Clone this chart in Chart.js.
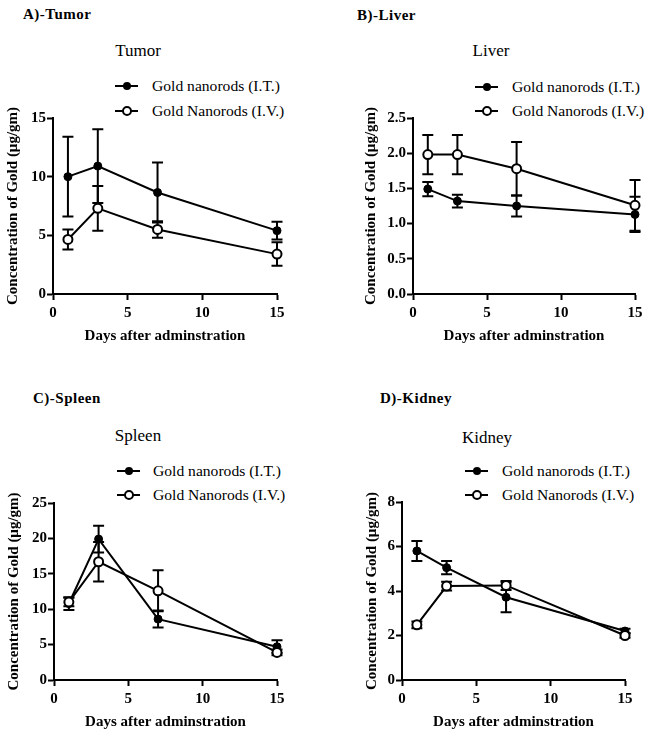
<!DOCTYPE html>
<html>
<head>
<meta charset="utf-8">
<script src="https://cdn.jsdelivr.net/npm/chart.js@4.4.1/dist/chart.umd.min.js"></script>
<style>
    body { margin: 0; background: #fff; font-family: 'Liberation Serif', 'Times New Roman', serif; color: #000; }
    #page { position: relative; width: 653px; height: 736px; overflow: hidden; }
    canvas { position: absolute; }
    .txt { position: absolute; line-height: 1; white-space: nowrap; transform: translateY(-50%); }
    .panel-label { font-weight: bold; font-size: 15px; letter-spacing: 0.5px; }
    .chart-title { font-size: 17px; transform: translate(-50%, -50%); }
    .legend-text { font-size: 15.6px; }
    .legend-line { position: absolute; height: 2px; background: #000; transform: translateY(-50%); }
    .legend-dot { position: absolute; width: 8px; height: 8px; border-radius: 50%; background: #000; transform: translate(-50%, -50%); box-sizing: border-box; }
    .legend-dot.open { background: #fff; border: 2px solid #000; width: 10px; height: 10px; }
</style>
</head>
<body>
<div id="page"></div>
<script>
// Days after administration
const days = [1, 3, 7, 15];

const seriesNames = ['Gold nanorods (I.T.)', 'Gold Nanorods (I.V.)'];

// Tumor
const tumorIT = [10.0, 10.9, 8.65, 5.4];
const tumorITErr = [3.4, 3.15, 2.55, 0.75];
const tumorIV = [4.65, 7.3, 5.5, 3.4];
const tumorIVErr = [0.85, 1.9, 0.7, 1.0];

// Liver
const liverIT = [1.49, 1.32, 1.25, 1.13];
const liverITErr = [0.10, 0.09, 0.15, 0.25];
const liverIV = [1.98, 1.98, 1.78, 1.26];
const liverIVErr = [0.28, 0.28, 0.38, 0.36];

// Spleen
const spleenIT = [10.8, 19.9, 8.6, 4.7];
const spleenITErr = [0.9, 1.9, 1.2, 0.9];
const spleenIV = [11.0, 16.7, 12.6, 3.9];
const spleenIVErr = [0.6, 2.8, 2.9, 0.4];

// Kidney
const kidneyIT = [5.8, 5.05, 3.72, 2.2];
const kidneyITErr = [0.45, 0.3, 0.67, 0.1];
const kidneyIV = [2.48, 4.22, 4.25, 2.0];
const kidneyIVErr = [0.15, 0.2, 0.2, 0.1];

// y axis ranges
const tumorAxis = { max: 15, step: 5 };
const liverAxis = { max: 2.5, step: 0.5 };
const spleenAxis = { max: 25, step: 5 };
const kidneyAxis = { max: 8, step: 2 };

// Panel layout (page pixels)
const panels = [
    {
        label: 'A)-Tumor', title: 'Tumor', it: tumorIT, itErr: tumorITErr, iv: tumorIV, ivErr: tumorIVErr, axis: tumorAxis, decimals: 0,
        box: { left: 0, top: 0, w: 326, h: 368 }, pad: { left: 4, right: 49, top: 118, bottom: 23 }, yWidth: 49,
        labelPos: [23, 14], titlePos: [138, 50], legend: { x1: 115, x2: 138, text: 152, y: [86, 111] }
    },
    {
        label: 'B)-Liver', title: 'Liver', it: liverIT, itErr: liverITErr, iv: liverIV, ivErr: liverIVErr, axis: liverAxis, decimals: 1,
        box: { left: 326, top: 0, w: 327, h: 368 }, pad: { left: 36, right: 18, top: 118, bottom: 23 }, yWidth: 51,
        labelPos: [357, 15], titlePos: [491, 50], legend: { x1: 475, x2: 498, text: 512, y: [87, 111] }
    },
    {
        label: 'C)-Spleen', title: 'Spleen', it: spleenIT, itErr: spleenITErr, iv: spleenIV, ivErr: spleenIVErr, axis: spleenAxis, decimals: 0,
        box: { left: 0, top: 368, w: 326, h: 368 }, pad: { left: 5, right: 49, top: 135, bottom: 5 }, yWidth: 49,
        labelPos: [33, 398], titlePos: [138, 435], legend: { x1: 117, x2: 140, text: 153, y: [471, 495] }
    },
    {
        label: 'D)-Kidney', title: 'Kidney', it: kidneyIT, itErr: kidneyITErr, iv: kidneyIV, ivErr: kidneyIVErr, axis: kidneyAxis, decimals: 0,
        box: { left: 326, top: 368, w: 327, h: 368 }, pad: { left: 37, right: 28, top: 134, bottom: 5 }, yWidth: 39,
        labelPos: [380, 398], titlePos: [487, 437], legend: { x1: 465, x2: 488, text: 502, y: [471, 495] }
    }
];

const errorBars = {
    id: 'errorBars',
    beforeDatasetsDraw(chart) {
        const ctx = chart.ctx;
        const xs = chart.scales.x;
        const ys = chart.scales.y;
        ctx.save();
        ctx.strokeStyle = '#000';
        ctx.lineWidth = 2;
        chart.data.datasets.forEach(ds => {
            ds.data.forEach((p, i) => {
                const e = ds.errors[i];
                const x = xs.getPixelForValue(p.x);
                const top = ys.getPixelForValue(p.y + e);
                const bot = ys.getPixelForValue(Math.max(p.y - e, 0));
                ctx.beginPath();
                ctx.moveTo(x, top);
                ctx.lineTo(x, bot);
                ctx.moveTo(x - 5.5, top);
                ctx.lineTo(x + 5.5, top);
                ctx.moveTo(x - 5.5, bot);
                ctx.lineTo(x + 5.5, bot);
                ctx.stroke();
            });
        });
        ctx.restore();
    }
};

function toPoints(values) {
    return values.map((v, i) => ({ x: days[i], y: v }));
}

function addText(cls, text, x, y) {
    const el = document.createElement('div');
    el.className = 'txt ' + cls;
    el.textContent = text;
    el.style.left = x + 'px';
    el.style.top = y + 'px';
    page.appendChild(el);
}

function addLegend(lg) {
    seriesNames.forEach((name, i) => {
        const y = lg.y[i];
        const line = document.createElement('div');
        line.className = 'legend-line';
        line.style.left = lg.x1 + 'px';
        line.style.width = (lg.x2 - lg.x1) + 'px';
        line.style.top = y + 'px';
        page.appendChild(line);
        const dot = document.createElement('div');
        dot.className = 'legend-dot' + (i === 1 ? ' open' : '');
        dot.style.left = ((lg.x1 + lg.x2) / 2) + 'px';
        dot.style.top = y + 'px';
        page.appendChild(dot);
        addText('legend-text', name, lg.text, y);
    });
}

const page = document.getElementById('page');
Chart.defaults.font.family = "'Liberation Serif', 'Times New Roman', serif";
Chart.defaults.color = '#000';

panels.forEach(p => {
    addText('panel-label', p.label, p.labelPos[0], p.labelPos[1]);
    addText('chart-title', p.title, p.titlePos[0], p.titlePos[1]);
    addLegend(p.legend);

    const canvas = document.createElement('canvas');
    canvas.width = p.box.w;
    canvas.height = p.box.h;
    canvas.style.left = p.box.left + 'px';
    canvas.style.top = p.box.top + 'px';
    canvas.style.width = p.box.w + 'px';
    canvas.style.height = p.box.h + 'px';
    page.appendChild(canvas);

    const axisGrid = { drawOnChartArea: false, drawTicks: true, tickLength: 6, tickWidth: 2, tickColor: '#000' };
    const axisBorder = { display: true, color: '#000', width: 2 };
    const tickFont = { size: 15, weight: 'bold' };
    const titleFont = { size: 15, weight: 'bold' };

    new Chart(canvas, {
        type: 'line',
        data: {
            datasets: [
                {
                    label: seriesNames[1],
                    data: toPoints(p.iv),
                    errors: p.ivErr,
                    borderColor: '#000',
                    borderWidth: 2,
                    pointRadius: 4.5,
                    pointBorderWidth: 2,
                    pointBackgroundColor: '#fff',
                    pointBorderColor: '#000',
                    tension: 0
                },
                {
                    label: seriesNames[0],
                    data: toPoints(p.it),
                    errors: p.itErr,
                    borderColor: '#000',
                    borderWidth: 2,
                    pointRadius: 4,
                    pointBorderWidth: 1,
                    pointBackgroundColor: '#000',
                    pointBorderColor: '#000',
                    tension: 0
                }
            ]
        },
        options: {
            responsive: false,
            animation: false,
            clip: false,
            layout: { padding: p.pad },
            plugins: {
                legend: { display: false },
                title: { display: false },
                tooltip: { enabled: false }
            },
            scales: {
                x: {
                    type: 'linear',
                    min: 0,
                    max: 15,
                    ticks: { stepSize: 5, font: tickFont, padding: 4, maxRotation: 0 },
                    grid: axisGrid,
                    border: axisBorder,
                    title: { display: true, text: 'Days after adminstration', font: titleFont, padding: 0 },
                    afterFit(scale) {
                        scale.height = 51;
                        scale.paddingLeft = 0;
                        scale.paddingRight = 0;
                    }
                },
                y: {
                    min: 0,
                    max: p.axis.max,
                    ticks: {
                        stepSize: p.axis.step,
                        font: tickFont,
                        padding: 1,
                        callback: v => v.toFixed(p.decimals)
                    },
                    grid: axisGrid,
                    border: axisBorder,
                    title: { display: true, text: 'Concentration of Gold (μg/gm)', font: titleFont, padding: 0 },
                    afterFit(scale) {
                        scale.width = p.yWidth;
                        scale.paddingTop = 0;
                        scale.paddingBottom = 0;
                    }
                }
            }
        },
        plugins: [errorBars]
    });
});
</script>
</body>
</html>
